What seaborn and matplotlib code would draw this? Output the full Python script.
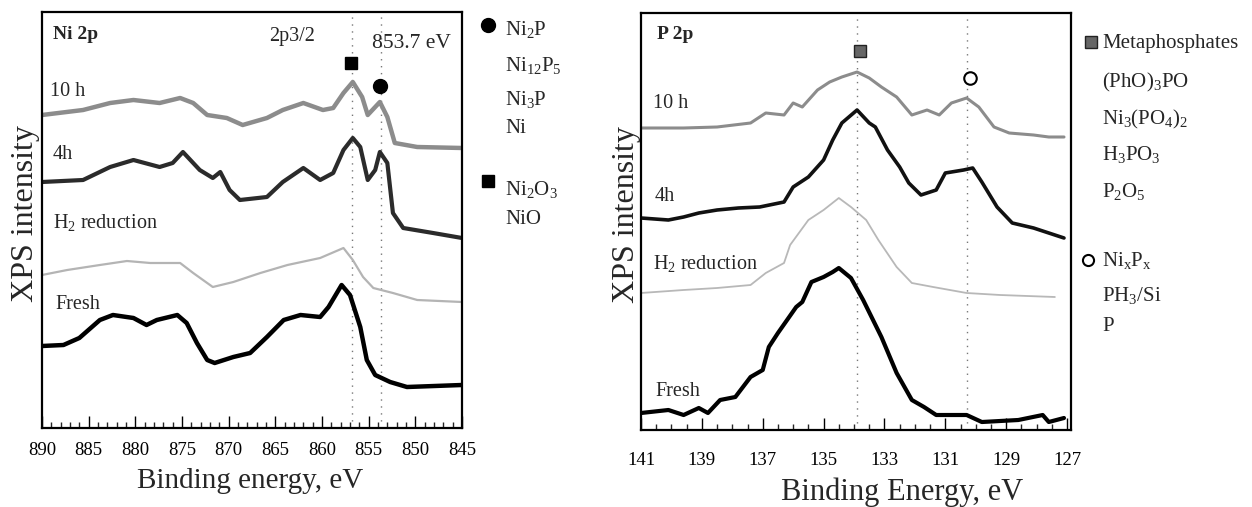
import numpy as np
import pandas as pd
import matplotlib
matplotlib.use("Agg")
import matplotlib.pyplot as plt
from matplotlib.lines import Line2D
from matplotlib.ticker import MultipleLocator
import seaborn as sns

# ---------------- data: Ni 2p panel (binding energy eV, intensity a.u.) ----------------
ni_10h_e = [890, 885.6, 882.7, 880.2, 877.4, 875.2, 873.8, 872.3, 870.2, 868.5, 865.9, 864.2,
            862, 859.9, 858.8, 857.7, 856.7, 855.7, 855.1, 853.8, 853, 852.2, 849.8, 845]
ni_10h_i = [313, 318, 325, 328, 325, 330, 325, 313, 310, 303, 310, 318,
            325, 318, 320, 335, 346, 331, 313, 326, 311, 285, 281, 280]

ni_4h_e = [890, 885.6, 882.7, 880.2, 877.4, 876, 874.9, 873.1, 871.7, 870.9, 869.9, 868.8, 865.9,
           864.2, 862, 860.2, 858.8, 857.7, 856.7, 855.9, 855.1, 854.3, 853.8, 853.0, 852.4,
           851.3, 848.1, 845]
ni_4h_i = [246, 248, 261, 268, 261, 265, 276, 258, 250, 256, 238, 228, 231,
           246, 260, 248, 255, 278, 290, 281, 248, 258, 276, 265, 215,
           200, 195, 190]

ni_h2_e = [890, 887.3, 883.8, 880.9, 878.4, 875.2, 873.8, 871.7, 869.5, 866.6, 863.7, 860.2,
           857.7, 856.7, 855.6, 854.5, 852.4, 849.8, 845]
ni_h2_i = [153, 158, 163, 167, 165, 165, 155, 141, 146, 155, 163, 170,
           180, 168, 151, 140, 135, 128, 126]

ni_fresh_e = [890, 887.7, 886, 883.8, 882.4, 880.2, 878.8, 877.7, 875.5, 874.5, 873.4, 872.3,
              871.5, 869.5, 867.7, 865.9, 864.1, 862.3, 860.2, 859.3, 857.9, 857.0, 855.9,
              855.2, 854.3, 852.7, 850.9, 845]
ni_fresh_i = [82, 83, 90, 108, 113, 110, 103, 108, 113, 105, 85, 68,
              65, 71, 75, 91, 108, 113, 111, 121, 143, 133, 101,
              68, 53, 46, 41, 43]

ni_ref_lines = [856.8, 853.7]
ni_marker_e = [856.9, 853.8]          # square (Ni2O3/NiO), circle (Ni2P ...)
ni_marker_i = [365, 342]
ni_ticks = [890, 885, 880, 875, 870, 865, 860, 855, 850, 845]

# ---------------- data: P 2p panel ----------------
p_10h_e = [141.0, 139.6, 138.5, 137.4, 136.9, 136.3, 136.0, 135.7, 135.2, 134.8, 134.4, 133.9,
           133.5, 133.1, 132.6, 132.1, 131.6, 131.2, 130.8, 130.3, 129.9, 129.4, 128.9, 128.1,
           127.6, 127.1]
p_10h_i = [302, 302, 303, 307, 317, 315, 327, 323, 340, 348, 353, 358,
           352, 343, 333, 315, 320, 315, 327, 332, 323, 303, 297, 295,
           293, 293]

p_4h_e = [141.0, 140.1, 139.6, 139.1, 138.5, 137.8, 137.1, 136.3, 136.0, 135.5, 135.0, 134.7,
          134.4, 133.9, 133.5, 133.3, 132.9, 132.5, 132.2, 131.8, 131.3, 131.0, 130.4, 130.1,
          129.8, 129.3, 128.8, 128.1, 127.6, 127.1]
p_4h_i = [212, 210, 213, 217, 220, 222, 223, 228, 243, 253, 270, 290,
          307, 320, 307, 303, 280, 263, 247, 235, 240, 257, 260, 262,
          248, 223, 207, 202, 197, 192]

p_h2_e = [141.0, 139.6, 138.5, 137.4, 136.9, 136.3, 136.1, 135.5, 135.0, 134.5, 134.1, 133.6,
          133.2, 132.6, 132.1, 131.4, 130.3, 129.2, 127.4]
p_h2_i = [137, 140, 142, 145, 157, 167, 185, 210, 220, 232, 223, 210,
          190, 163, 147, 143, 137, 135, 133]

p_fresh_e = [141.0, 140.1, 139.6, 139.1, 138.8, 138.4, 137.9, 137.4, 137.0, 136.8, 136.5, 136.2,
             135.9, 135.7, 135.4, 135.0, 134.7, 134.5, 134.1, 133.7, 133.1, 132.6, 132.1, 131.7,
             131.3, 130.3, 129.8, 128.6, 127.8, 127.6, 127.1]
p_fresh_i = [17, 20, 15, 22, 17, 30, 33, 53, 60, 83, 97, 110,
             123, 128, 148, 153, 158, 162, 152, 130, 93, 57, 30, 23,
             15, 15, 8, 10, 15, 8, 12]

p_ref_lines = [133.9, 130.3]
p_marker_e = [133.8, 130.2]           # square (metaphosphates ...), open circle (NixPx ...)
p_marker_i = [379, 352]
p_ticks = [141, 139, 137, 135, 133, 131, 129, 127]

# ---------------- style ----------------
sns.set_style("ticks")
plt.rcParams["font.family"] = ["Liberation Serif", "DejaVu Serif"]
plt.rcParams["mathtext.fontset"] = "custom"
plt.rcParams["mathtext.rm"] = "Liberation Serif"
plt.rcParams["mathtext.it"] = "Liberation Serif:italic"
plt.rcParams["mathtext.bf"] = "Liberation Serif:bold"

W, H = 1252, 507
fig = plt.figure(figsize=(W / 100, H / 100), dpi=100)
fig.patch.set_facecolor("white")

axL = fig.add_axes([42 / W, 1 - 428 / H, 420 / W, 416 / H])
axR = fig.add_axes([641 / W, 1 - 430 / H, 430 / W, 417 / H])


def draw(ax, e, i, color, lw):
    df = pd.DataFrame({"E": e, "I": i})
    sns.lineplot(data=df, x="E", y="I", ax=ax, color=color, lw=lw,
                 estimator=None, sort=False)


draw(axL, ni_10h_e, ni_10h_i, "#8c8c8c", 3.2)
draw(axL, ni_4h_e, ni_4h_i, "#2b2b2b", 3.0)
draw(axL, ni_h2_e, ni_h2_i, "#b4b4b4", 1.6)
draw(axL, ni_fresh_e, ni_fresh_i, "#000000", 3.2)

draw(axR, p_10h_e, p_10h_i, "#8c8c8c", 2.2)
draw(axR, p_4h_e, p_4h_i, "#111111", 2.6)
draw(axR, p_h2_e, p_h2_i, "#b8b8b8", 1.3)
draw(axR, p_fresh_e, p_fresh_i, "#000000", 3.0)

for ax, lines in ((axL, ni_ref_lines), (axR, p_ref_lines)):
    for x in lines:
        ax.axvline(x, color="#777777", lw=1.0, ls=(0, (1, 4)), zorder=0)

# peak markers
axL.plot([ni_marker_e[0]], [ni_marker_i[0]], marker="s", ms=8, color="black", ls="none")
axL.plot([ni_marker_e[1]], [ni_marker_i[1]], marker="o", ms=10, color="black", ls="none")
axR.plot([p_marker_e[0]], [p_marker_i[0]], marker="s", ms=8, mfc="#666666", mec="#222222",
         ls="none")
axR.plot([p_marker_e[1]], [p_marker_i[1]], marker="o", ms=9, mfc="white", mec="black",
         mew=1.5, ls="none")

# axes formatting
axL.set_xlim(890, 845)
axL.set_ylim(0, 416)
axR.set_xlim(141, 126.87)
axR.set_ylim(0, 417)
axL.set_xticks(ni_ticks)
axL.set_xticklabels([str(t) for t in ni_ticks])
axL.xaxis.set_minor_locator(MultipleLocator(1))
axR.set_xticks(p_ticks)
axR.set_xticklabels([str(t) for t in p_ticks])
axR.xaxis.set_minor_locator(MultipleLocator(0.5))

for ax, pad in ((axL, 10), (axR, 16)):
    ax.set_yticks([])
    ax.set_xlabel("")
    ax.set_ylabel("")
    ax.tick_params(axis="x", which="major", direction="in", length=9, width=1.0,
                   labelsize=13.5, pad=pad, colors="black")
    ax.tick_params(axis="x", which="minor", direction="in", length=4.5, width=1.0)
    for s in ax.spines.values():
        s.set_visible(True)
        s.set_linewidth(1.6)
        s.set_color("black")

# axis titles
fig.text(33 / W, 1 - 214 / H, "XPS intensity", rotation=90, rotation_mode="anchor",
         ha="center", va="baseline", fontsize=23)
fig.text(634 / W, 1 - 215 / H, "XPS intensity", rotation=90, rotation_mode="anchor",
         ha="center", va="baseline", fontsize=23)
fig.text(250 / W, 1 - 488 / H, "Binding energy, eV", ha="center", va="baseline", fontsize=21)
fig.text(902 / W, 1 - 500 / H, "Binding Energy, eV", ha="center", va="baseline", fontsize=22)

# in-panel labels
def ltext(ax, px, py, x0, y0, w, h, s, **kw):
    ax.text((px - x0) / w, (y0 - py) / h, s, transform=ax.transAxes, **kw)

ltext(axL, 53, 39, 42, 428, 420, 416, "Ni 2p", fontsize=14, fontweight="bold",
      ha="left", va="baseline")
ltext(axL, 292, 41, 42, 428, 420, 416, "2p3/2", fontsize=14.5, ha="center", va="baseline")
ltext(axL, 411, 48, 42, 428, 420, 416, "853.7 eV", fontsize=15.5, ha="center", va="baseline")
ltext(axL, 50, 96, 42, 428, 420, 416, "10 h", fontsize=14.5, ha="left", va="baseline")
ltext(axL, 53, 159, 42, 428, 420, 416, "4h", fontsize=14.5, ha="left", va="baseline")
ltext(axL, 53, 228, 42, 428, 420, 416, r"H$_2$ reduction", fontsize=14.5, ha="left",
      va="baseline")
ltext(axL, 55, 309, 42, 428, 420, 416, "Fresh", fontsize=14.5, ha="left", va="baseline")

ltext(axR, 657, 39, 641, 430, 430, 417, "P 2p", fontsize=14, fontweight="bold",
      ha="left", va="baseline")
ltext(axR, 653, 108, 641, 430, 430, 417, "10 h", fontsize=14.5, ha="left", va="baseline")
ltext(axR, 655, 201, 641, 430, 430, 417, "4h", fontsize=14.5, ha="left", va="baseline")
ltext(axR, 653, 269, 641, 430, 430, 417, r"H$_2$ reduction", fontsize=14.5, ha="left",
      va="baseline")
ltext(axR, 655, 396, 641, 430, 430, 417, "Fresh", fontsize=14.5, ha="left", va="baseline")

# side legends
legL = [r"Ni$_2$P", r"Ni$_{12}$P$_5$", r"Ni$_3$P", "Ni", r"Ni$_2$O$_3$", "NiO"]
legL_y = [35, 71, 105, 133, 195, 224]
legR = ["Metaphosphates", r"(PhO)$_3$PO", r"Ni$_3$(PO$_4$)$_2$", r"H$_3$PO$_3$",
        r"P$_2$O$_5$", r"Ni$_\mathrm{x}$P$_\mathrm{x}$", r"PH$_3$/Si", "P"]
legR_y = [48, 87, 124, 160, 197, 266, 301, 331]

for s, y in zip(legL, legL_y):
    fig.text(505 / W, 1 - y / H, s, fontsize=15, ha="left", va="baseline")
for s, y in zip(legR, legR_y):
    fig.text(1102 / W, 1 - y / H, s, fontsize=15, ha="left", va="baseline")

fig.add_artist(Line2D([488 / W], [1 - 25 / H], marker="o", ms=10, color="black",
                      transform=fig.transFigure))
fig.add_artist(Line2D([488 / W], [1 - 181 / H], marker="s", ms=9, color="black",
                      transform=fig.transFigure))
fig.add_artist(Line2D([1091 / W], [1 - 42 / H], marker="s", ms=8, mfc="#666666",
                      mec="#222222", transform=fig.transFigure))
fig.add_artist(Line2D([1088 / W], [1 - 260 / H], marker="o", ms=8, mfc="white",
                      mec="black", mew=1.5, transform=fig.transFigure))

fig.savefig("out.png", dpi=100, facecolor="white")
